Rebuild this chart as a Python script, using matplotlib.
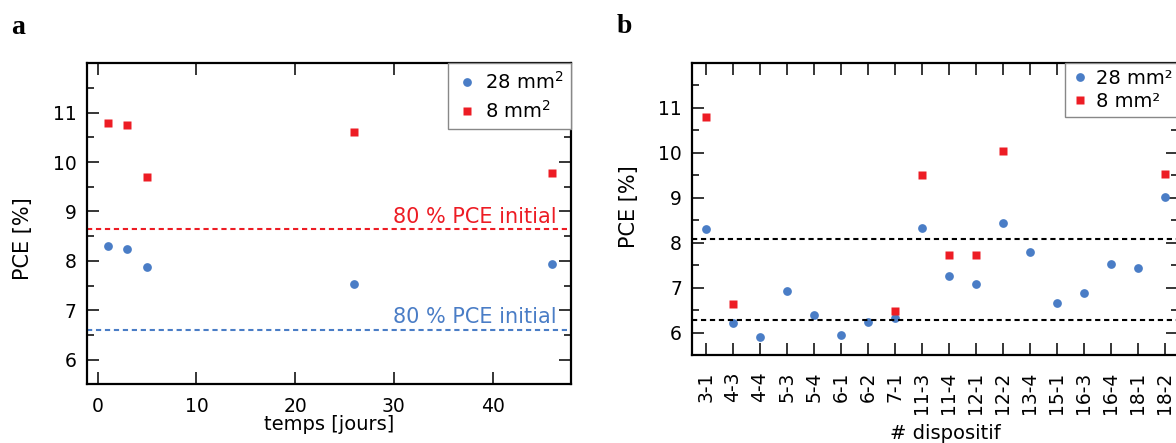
import numpy as np
import matplotlib
matplotlib.use('Agg')
import matplotlib.pyplot as plt

plt.rcParams['font.family'] = ['DejaVu Sans']

# panneau a : evolution dans le temps
jours = [1, 3, 5, 26, 46]
pce_28 = [8.30, 8.24, 7.87, 7.53, 7.93]
pce_8 = [10.80, 10.75, 9.70, 10.60, 9.78]
seuil_28 = 6.60
seuil_8 = 8.64

# panneau b : dispositifs
dispositifs = ['3-1', '4-3', '4-4', '5-3', '5-4', '6-1', '6-2', '7-1', '11-3',
               '11-4', '12-1', '12-2', '13-4', '15-1', '16-3', '16-4', '18-1', '18-2']
b_28 = [8.30, 6.21, 5.90, 6.92, 6.38, 5.94, 6.24, 6.33, 8.33,
        7.25, 7.09, 8.43, 7.79, 6.65, 6.87, 7.53, 7.43, 9.01]
b_8 = [10.80, 6.63, np.nan, np.nan, np.nan, np.nan, np.nan, 6.49, 9.51,
       7.72, 7.73, 10.04, np.nan, np.nan, np.nan, np.nan, np.nan, 9.54]
lignes_b = [8.08, 6.28]

bleu = '#4a7dc6'
rouge = '#ed1c24'
fs_tick = 13.5
fs_lab = 14

fig = plt.figure(figsize=(11.76, 4.43), dpi=100)
ax1 = fig.add_axes([87/1176, (443 - 384.3)/443, 484/1176, 321/443])
ax2 = fig.add_axes([692.3/1176, (443 - 355)/443, 486/1176, 292/443])


def style(ax):
    for s in ax.spines.values():
        s.set_linewidth(1.6)
    ax.tick_params(which='both', direction='in', top=True, right=True,
                   width=1.1, labelsize=fs_tick)
    ax.tick_params(which='major', length=8.5)
    ax.tick_params(which='minor', length=5)
    ax.set_ylim(5.5, 12.0)
    ax.set_yticks([6, 7, 8, 9, 10, 11])
    ax.set_yticks(np.arange(5.5, 12.01, 0.5), minor=True)
    ax.tick_params(axis='y', pad=7.5)


# ---- a ----
style(ax1)
ax1.plot(jours, pce_28, 'o', color=bleu, ms=6.3, mec='none', label='28 mm$^2$')
ax1.plot(jours, pce_8, 's', color=rouge, ms=5.8, mec='none', label='8 mm$^2$')
ax1.axhline(seuil_8, color=rouge, ls=(0, (2.5, 1.8)), lw=1.5)
ax1.axhline(seuil_28, color=bleu, ls=(0, (2.5, 1.8)), lw=1.5)
ax1.text(46.5, seuil_8 + 0.12, '80 % PCE initial', color=rouge, fontsize=15,
         ha='right', va='baseline')
ax1.text(46.5, seuil_28 + 0.14, '80 % PCE initial', color=bleu, fontsize=15,
         ha='right', va='baseline')
ax1.set_xlim(-1.08, 47.95)
ax1.set_xticks([0, 10, 20, 30, 40])
ax1.tick_params(axis='x', pad=9)
ax1.set_xlabel('temps [jours]', fontsize=fs_lab)
ax1.xaxis.set_label_coords(0.5, -0.142)
ax1.xaxis.label.set_va('baseline')
ax1.set_ylabel('PCE [%]', fontsize=15)
ax1.yaxis.set_label_coords(-0.112, 0.455)
leg = ax1.legend(loc='upper right', fontsize=fs_lab, borderaxespad=0, fancybox=False,
                 framealpha=1, edgecolor='#888888', handletextpad=0.3,
                 handlelength=1.2, borderpad=0.4, labelspacing=0.35)
leg.get_frame().set_linewidth(1.0)

# ---- b ----
style(ax2)
pos = np.arange(len(dispositifs))
ax2.plot(pos, b_28, 'o', color=bleu, ms=6.3, mec='none', label='28 mm²')
ax2.plot(pos, b_8, 's', color=rouge, ms=5.8, mec='none', label='8 mm²')
for v in lignes_b:
    ax2.axhline(v, color='black', ls=(0, (2.5, 1.8)), lw=1.5)
ax2.set_xlim(-0.5, 17.5)
ax2.set_xticks(pos)
ax2.set_xticklabels(dispositifs, rotation=90)
ax2.tick_params(axis='x', pad=12)
ax2.set_xlabel('# dispositif', fontsize=fs_lab)
ax2.xaxis.set_label_coords(0.52, (355 - 439) / 292)
ax2.xaxis.label.set_va('baseline')
ax2.set_ylabel('PCE [%]', fontsize=15)
ax2.yaxis.set_label_coords(-0.109, 0.508)
leg = ax2.legend(loc='upper right', fontsize=fs_lab, borderaxespad=0, fancybox=False,
                 framealpha=1, edgecolor='#888888', handletextpad=0.3,
                 handlelength=1.0, borderpad=0.3, labelspacing=0.2)
leg.get_frame().set_linewidth(1.0)

fig.text(11/1176, 1 - 34/443, 'a', fontsize=20, fontweight='bold',
         family='Liberation Serif', va='baseline')
fig.text(617/1176, 1 - 33/443, 'b', fontsize=20, fontweight='bold',
         family='Liberation Serif', va='baseline')

fig.savefig('out.png', dpi=100)
